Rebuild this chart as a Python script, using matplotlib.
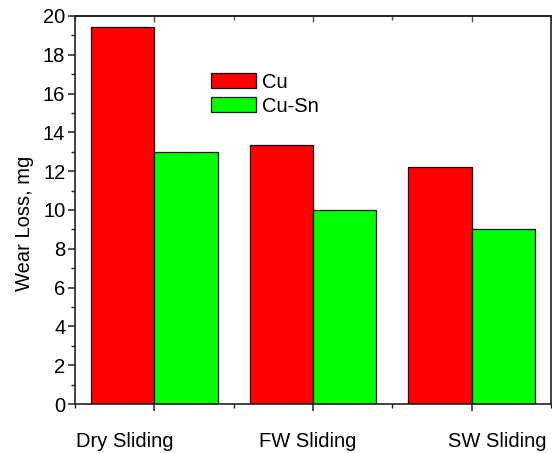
import numpy as np
import matplotlib
matplotlib.use("Agg")
import matplotlib.pyplot as plt
from matplotlib.ticker import MultipleLocator, FixedLocator

# dane
categories = ["Dry Sliding", "FW Sliding", "SW Sliding"]
cu_loss = [19.45, 13.35, 12.23]
cusn_loss = [13.0, 10.0, 9.0]
label_shift = [-0.186, -0.031, 0.16]  # etykiety kategorii nie sa wysrodkowane

plt.rcParams['font.family'] = ['Liberation Sans', 'DejaVu Sans']
fs = 14.5

fig = plt.figure(figsize=(5.52, 4.53), dpi=100)
ax = fig.add_axes([75 / 552, 1 - 404 / 453, 476 / 552, 388 / 453])

x = np.arange(1, len(categories) + 1)
w = 0.4
ax.bar(x - w / 2, cu_loss, w, color="#ff0000", edgecolor="#1a0000", linewidth=0.9, label="Cu")
ax.bar(x + w / 2, cusn_loss, w, color="#00ff00", edgecolor="#001a00", linewidth=0.9, label="Cu-Sn")

ax.set_xlim(0.5, 3.5)
ax.set_ylim(0, 20)
ax.yaxis.set_major_locator(MultipleLocator(2))
ax.yaxis.set_minor_locator(MultipleLocator(1))
ax.xaxis.set_major_locator(FixedLocator(x))
ax.xaxis.set_minor_locator(FixedLocator(np.arange(0.5, 3.6, 1.0)))
ax.set_xticklabels([])

for sp in ax.spines.values():
    sp.set_linewidth(1.2)
    sp.set_color("#222222")

ax.tick_params(axis='both', which='major', direction='out', length=5, width=1.1, labelsize=fs, colors="#222222")
ax.tick_params(axis='both', which='minor', direction='out', length=3, width=1.0, colors="#222222")
ax.tick_params(axis='y', labelcolor='black', pad=2)

# znaczniki od gory, do srodka
top = ax.secondary_xaxis('top')
top.xaxis.set_major_locator(FixedLocator(x))
top.xaxis.set_minor_locator(FixedLocator(np.arange(0.5, 3.6, 1.0)))
top.set_xticklabels([])
top.tick_params(which='major', direction='in', length=4, width=1.0, colors="#555555")
top.tick_params(which='minor', direction='in', length=3, width=1.0, colors="#555555")
top.spines['top'].set_linewidth(1.2)
top.spines['top'].set_color("#222222")

trans = ax.get_xaxis_transform()
for xi, name, sh in zip(x, categories, label_shift):
    ax.text(xi + sh, -0.111, name, transform=trans, ha='center', va='baseline', fontsize=fs)

ax.set_ylabel("Wear Loss, mg", fontsize=fs)
ax.yaxis.set_label_coords(-0.086, 0.465)

ax.legend(loc='upper left', bbox_to_anchor=(0.2857, 0.854), frameon=False, fontsize=fs,
          handlelength=2.24, handleheight=0.8, handletextpad=0.3, labelspacing=0.25, borderpad=0,
          borderaxespad=0)

fig.savefig("out.png", dpi=100)
